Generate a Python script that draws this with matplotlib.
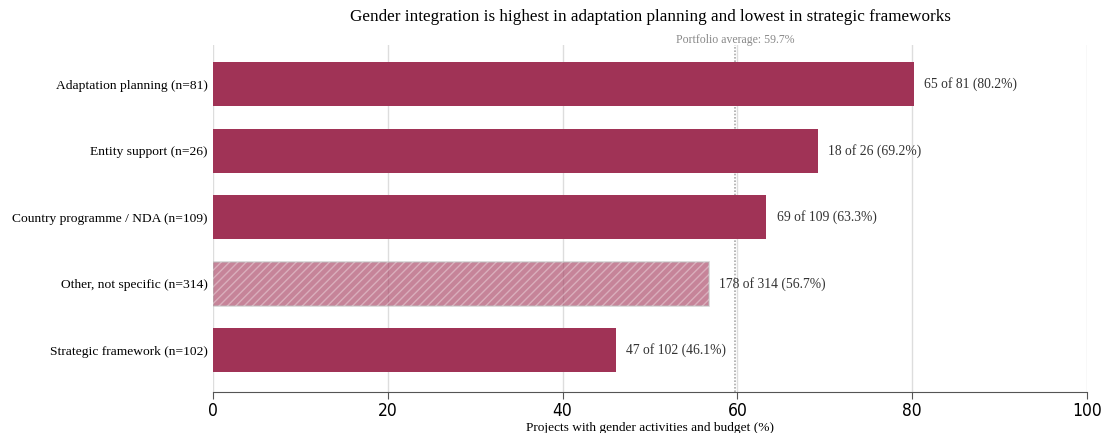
import numpy as np
import matplotlib.pyplot as plt

categories = ['Adaptation planning (n=81)', 'Entity support (n=26)',
              'Country programme / NDA (n=109)', 'Other, not specific (n=314)',
              'Strategic framework (n=102)']
with_gender = [65, 18, 69, 178, 47]
totals = [81, 26, 109, 314, 102]
shares = [80.2, 69.2, 63.3, 56.7, 46.1]
portfolio_avg = 59.7
hatched = [False, False, False, True, False]

serif = 'Liberation Serif'
bar_color = '#a03356'

fig = plt.figure(figsize=(11.01, 4.33), dpi=100)
ax = fig.add_axes([213 / 1101, 1 - 392 / 433, 874 / 1101, 347 / 433])

y = np.arange(len(categories))
for i, (val, h) in enumerate(zip(shares, hatched)):
    if h:
        ax.barh(y[i], val, height=0.66, color=bar_color, alpha=0.6,
                edgecolor='#bbbbbb', linewidth=1.2, zorder=2)
        ax.barh(y[i], val, height=0.66, color='none', edgecolor='white',
                hatch='////', linewidth=0, alpha=0.35, zorder=3)
    else:
        ax.barh(y[i], val, height=0.66, color=bar_color, zorder=2)
    ax.text(val + 1.2, y[i], f'{with_gender[i]} of {totals[i]} ({val:.1f}%)',
            va='center', ha='left', fontsize=9.8, family=serif, color='#333333')

ax.axvline(portfolio_avg, color='#aaaaaa', linestyle=(0, (1, 1)),
           linewidth=1.2, zorder=1)
ax.text(portfolio_avg, -0.58, f'Portfolio average: {portfolio_avg}%',
        ha='center', va='bottom', fontsize=8.5, family=serif, color='#888888')

ax.set_xlim(0, 100)
ax.set_ylim(4.63, -0.59)
ax.set_yticks(y)
ax.set_yticklabels(categories, family=serif, fontsize=9.7)
ax.tick_params(axis='y', length=0, pad=4)
ax.set_xticks([0, 20, 40, 60, 80, 100])
ax.set_xticklabels(['0', '20', '40', '60', '80', '100'],
                   family='DejaVu Sans', fontstretch='condensed', fontsize=12.5)
ax.tick_params(axis='x', length=5, pad=2, color='#555555', direction='out')
ax.xaxis.grid(True, color='#dddddd', linewidth=1, zorder=0)
ax.set_axisbelow(True)
for s in ['top', 'right', 'left']:
    ax.spines[s].set_visible(False)
ax.spines['bottom'].set_color('#555555')
ax.set_xlabel('Projects with gender activities and budget (%)',
              family=serif, fontsize=9.6, labelpad=2)

fig.text(650 / 1101, 1 - 17 / 433,
         'Gender integration is highest in adaptation planning and lowest in strategic frameworks',
         ha='center', va='center', family=serif, fontsize=12.3)

fig.savefig('out.png', dpi=100)
